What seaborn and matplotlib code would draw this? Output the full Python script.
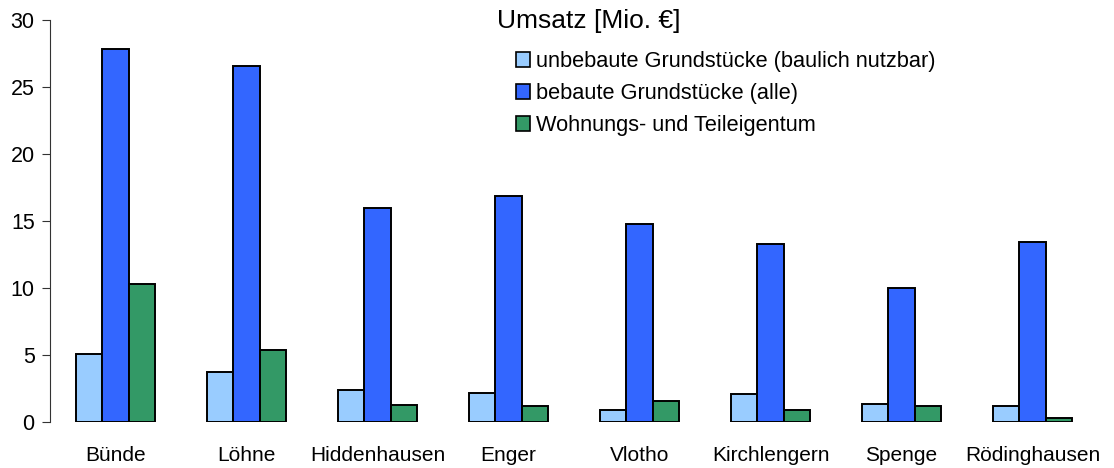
import pandas as pd
import numpy as np

import matplotlib
matplotlib.use("Agg")
import matplotlib.pyplot as plt
import seaborn as sns

# ### Data
orte = ["Bünde", "Löhne", "Hiddenhausen", "Enger", "Vlotho", "Kirchlengern", "Spenge", "Rödinghausen"]
unbebaut = [5.1, 3.7, 2.4, 2.2, 0.9, 2.1, 1.35, 1.2]
bebaut = [27.8, 26.6, 16.0, 16.9, 14.8, 13.3, 10.0, 13.45]
wohnung = [10.3, 5.4, 1.3, 1.2, 1.6, 0.9, 1.2, 0.3]

serien = ["unbebaute Grundstücke (baulich nutzbar)", "bebaute Grundstücke (alle)", "Wohnungs- und Teileigentum"]
farben = ["#99CCFF", "#3366FF", "#339966"]

# long format for seaborn
df = pd.DataFrame({
    "Ort": orte * 3,
    "Umsatz": unbebaut + bebaut + wohnung,
    "Art": [serien[0]] * 8 + [serien[1]] * 8 + [serien[2]] * 8,
})

sns.set_style("ticks")
plt.rcParams["font.family"] = ["Liberation Sans", "DejaVu Sans"]
plt.rcParams["text.color"] = "black"

fig = plt.figure(figsize=(11.14, 4.68), dpi=100)
ax = fig.add_axes([50 / 1114, 1 - 422 / 468, 1048 / 1114, 402 / 468])

sns.barplot(data=df, x="Ort", y="Umsatz", hue="Art", hue_order=serien, palette=farben,
            width=0.61, edgecolor="black", linewidth=1.4, saturation=1, ax=ax, legend=False)

ax.set_xlim(-0.5, 7.5)
ax.set_ylim(0, 30)
ax.set_yticks([0, 5, 10, 15, 20, 25, 30])
ax.set_xlabel("")
ax.set_ylabel("")
ax.tick_params(axis="y", labelsize=15.5, length=6, width=0.8, color="#333333", labelcolor="black", pad=5)
ax.tick_params(axis="x", labelsize=15, length=0, labelcolor="black", pad=17)

# only the left spine is visible
for s in ["top", "right", "bottom"]:
    ax.spines[s].set_visible(False)
ax.spines["left"].set_linewidth(0.8)
ax.spines["left"].set_color("#333333")

# legend: title as separate text, entries without frame
fig.text(497 / 1114, 1 - 21 / 468, "Umsatz [Mio. €]", fontsize=19, va="center", ha="left")
handles = [plt.Rectangle((0, 0), 1, 1, facecolor=c, edgecolor="black", linewidth=1.2) for c in farben]
ax.legend(handles, serien, loc="upper left", bbox_to_anchor=(516 / 1114, 1 - 51 / 468),
          bbox_transform=fig.transFigure, frameon=False, fontsize=15.7,
          handlelength=0.66, handleheight=0.66, handletextpad=0.25, labelspacing=0.5,
          borderaxespad=0, borderpad=0)

fig.savefig("out.png", dpi=100)
